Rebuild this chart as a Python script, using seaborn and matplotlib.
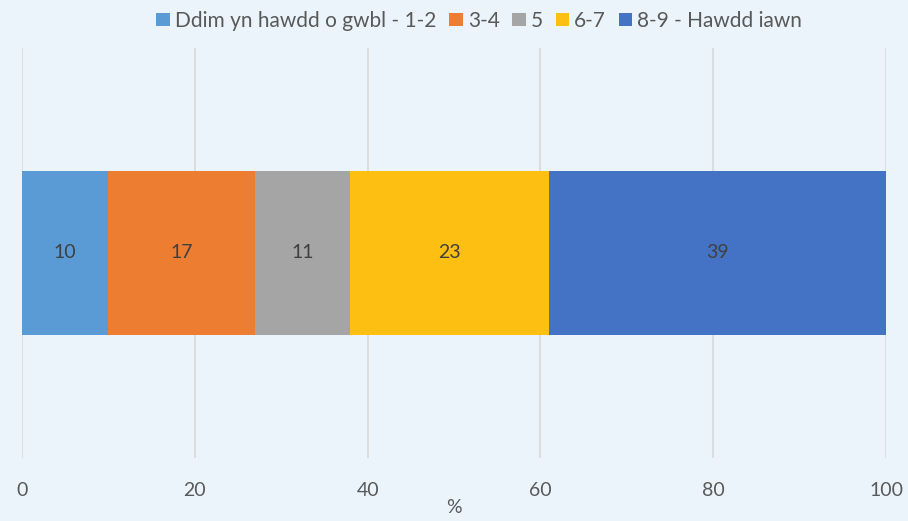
import pandas as pd
import matplotlib.pyplot as plt
import seaborn as sns
from matplotlib.patches import Patch

# Chart data
categories = ['Ddim yn hawdd o gwbl - 1-2', '3-4', '5', '6-7', '8-9 - Hawdd iawn']
values = [10, 17, 11, 23, 39]
colors = ['#5B9BD5', '#ED7D31', '#A5A5A5', '#FCBF12', '#4472C4']
xticks = [0, 20, 40, 60, 80, 100]

bg = '#EAF4FA'
text_col = '#595959'

sns.set_theme(style='white')
plt.rcParams['font.family'] = ['Lato', 'DejaVu Sans']

fig = plt.figure(figsize=(9.08, 5.21), dpi=100, facecolor=bg)
ax = fig.add_axes([22 / 908, 63 / 521, 864 / 908, 410 / 521])
ax.set_facecolor(bg)

# stacked bar: draw cumulative totals from largest to smallest
cum = pd.Series(values).cumsum().tolist()
df = pd.DataFrame({'cat': categories, 'cum': cum, 'val': values})
for i in reversed(range(len(df))):
    sns.barplot(x=[df['cum'][i]], y=[''], orient='h', color=colors[i],
                width=0.4, saturation=1, linewidth=0, edgecolor='none', ax=ax, zorder=2)

# value labels
for i in range(len(df)):
    start = df['cum'][i] - df['val'][i]
    ax.text(start + df['val'][i] / 2, 0, str(df['val'][i]), ha='center', va='center',
            fontsize=14, color='#404040', zorder=3)

ax.set_xlim(0, 100)
ax.set_ylim(0.5, -0.5)
ax.set_xticks(xticks)
ax.set_xticklabels([str(t) for t in xticks], fontsize=14, color=text_col)
ax.tick_params(axis='x', length=0, pad=17)
ax.set_yticks([])
ax.set_ylabel('')
ax.set_xlabel('%', fontsize=14, color=text_col, labelpad=0)
ax.grid(axis='x', color='#D9D9D9', linewidth=1.2, zorder=0)
ax.set_axisbelow(True)
for s in ax.spines.values():
    s.set_visible(False)

handles = [Patch(facecolor=c, edgecolor='none') for c in colors]
fig.legend(handles, categories, loc='center', bbox_to_anchor=(0.528, 0.96), ncol=5,
           frameon=False, fontsize=15, handlelength=0.65, handleheight=0.65,
           handletextpad=0.25, columnspacing=0.6, labelcolor=text_col)

fig.savefig('out.png', dpi=100, facecolor=bg)
